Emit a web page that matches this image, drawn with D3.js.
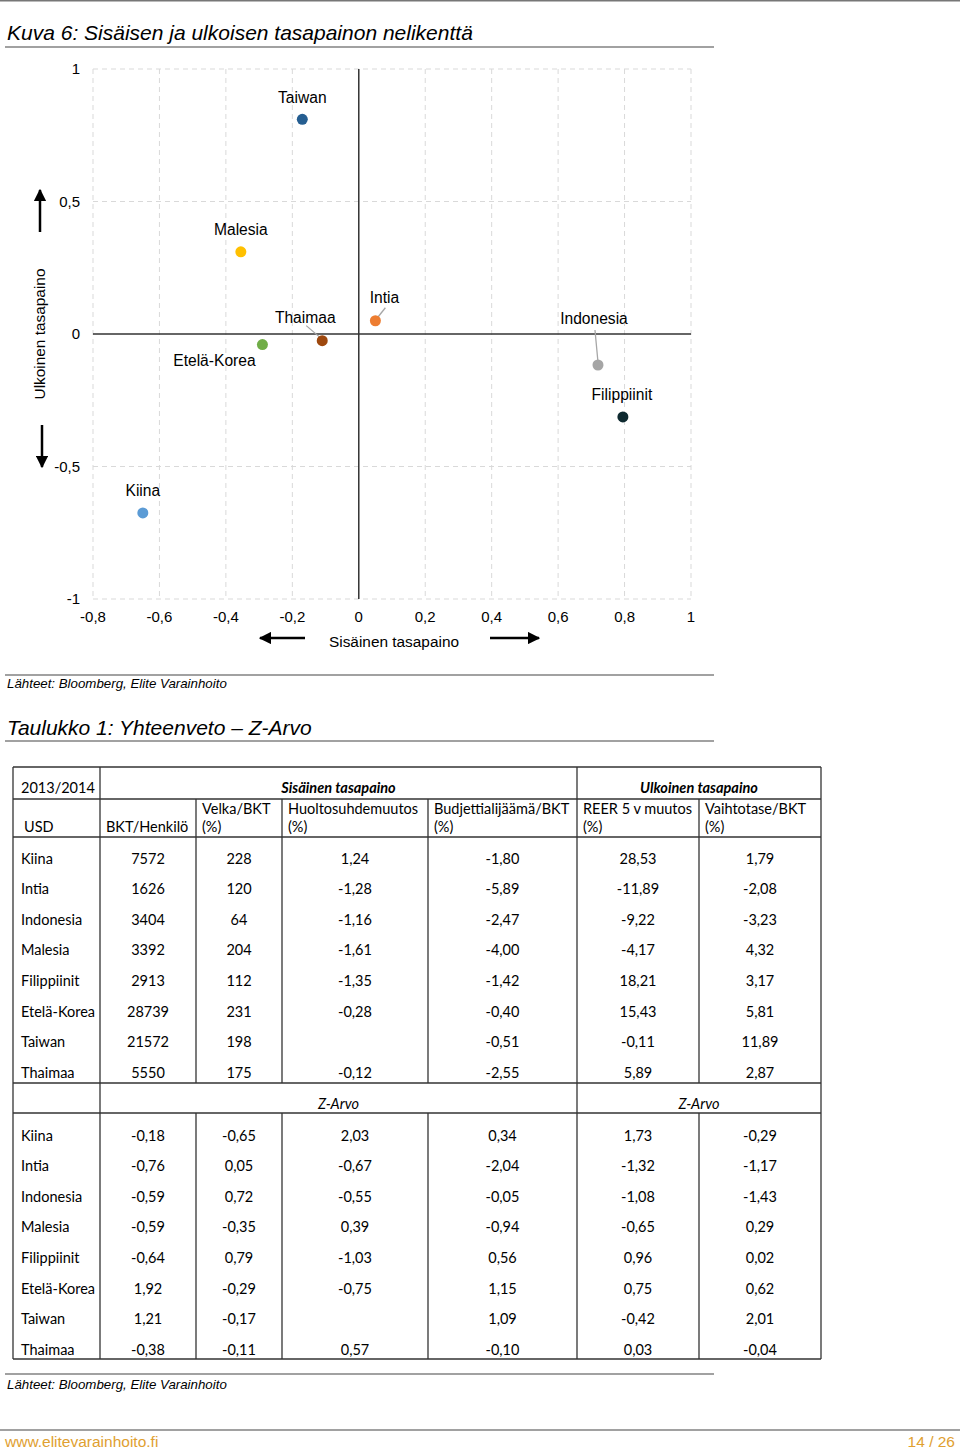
<!DOCTYPE html>
<html>
<head>
<meta charset="utf-8">
<script src="https://cdn.jsdelivr.net/npm/d3@7"></script>
<style>
  body { margin: 0; background: #fff; }
</style>
</head>
<body>
<svg id="page" width="960" height="1453"></svg>
<script>
// scatter data
var countries = ["Taiwan", "Malesia", "Etelä-Korea", "Thaimaa", "Intia", "Indonesia", "Filippiinit", "Kiina"];
var sisainen = [-0.17, -0.355, -0.29, -0.11, 0.05, 0.72, 0.795, -0.65];
var ulkoinen = [0.81, 0.31, -0.04, -0.025, 0.05, -0.117, -0.313, -0.675];
var pointColors = ["#255e91", "#ffc000", "#70ad47", "#9e480e", "#ed7d31", "#a5a5a5", "#0f2a30", "#5b9bd5"];
var xTicks = [-0.8, -0.6, -0.4, -0.2, 0, 0.2, 0.4, 0.6, 0.8, 1];
var yTicks = [-1, -0.5, 0, 0.5, 1];

// table data
var rowNames = ["Kiina", "Intia", "Indonesia", "Malesia", "Filippiinit", "Etelä-Korea", "Taiwan", "Thaimaa"];
var bktHenkilo = ["7572", "1626", "3404", "3392", "2913", "28739", "21572", "5550"];
var velkaBkt = ["228", "120", "64", "204", "112", "231", "198", "175"];
var huoltosuhde = ["1,24", "-1,28", "-1,16", "-1,61", "-1,35", "-0,28", "", "-0,12"];
var budjetti = ["-1,80", "-5,89", "-2,47", "-4,00", "-1,42", "-0,40", "-0,51", "-2,55"];
var reer = ["28,53", "-11,89", "-9,22", "-4,17", "18,21", "15,43", "-0,11", "5,89"];
var vaihtotase = ["1,79", "-2,08", "-3,23", "4,32", "3,17", "5,81", "11,89", "2,87"];

var zBkt = ["-0,18", "-0,76", "-0,59", "-0,59", "-0,64", "1,92", "1,21", "-0,38"];
var zVelka = ["-0,65", "0,05", "0,72", "-0,35", "0,79", "-0,29", "-0,17", "-0,11"];
var zHuolto = ["2,03", "-0,67", "-0,55", "0,39", "-1,03", "-0,75", "", "0,57"];
var zBudjetti = ["0,34", "-2,04", "-0,05", "-0,94", "0,56", "1,15", "1,09", "-0,10"];
var zReer = ["1,73", "-1,32", "-1,08", "-0,65", "0,96", "0,75", "-0,42", "0,03"];
var zVaihto = ["-0,29", "-1,17", "-1,43", "0,29", "0,02", "0,62", "2,01", "-0,04"];

var headerTop = ["", "", "Velka/BKT", "Huoltosuhdemuutos", "Budjettialijäämä/BKT", "REER 5 v muutos", "Vaihtotase/BKT"];
var headerBottom = ["USD", "BKT/Henkilö", "(%)", "(%)", "(%)", "(%)", "(%)"];

var svg = d3.select("#page")
    .attr("font-family", "'Liberation Sans', Arial, Helvetica, sans-serif")
    .attr("fill", "#000");

// page frame lines
svg.append("line").attr("x1", 0).attr("x2", 960).attr("y1", 0.5).attr("y2", 0.5)
    .attr("stroke", "#777").attr("stroke-width", 2);

function rule(y, x2) {
    svg.append("line").attr("x1", 5).attr("x2", x2).attr("y1", y).attr("y2", y)
        .attr("stroke", "#444").attr("stroke-width", 1.2);
}

svg.append("text").attr("x", 7).attr("y", 40)
    .attr("font-size", 21).attr("font-style", "italic")
    .text("Kuva 6: Sisäisen ja ulkoisen tasapainon nelikenttä");
rule(47, 714);

// ---- scatter ----
var x = d3.scaleLinear().domain([-0.8, 1]).range([93, 691]);
var y = d3.scaleLinear().domain([-1, 1]).range([599, 69]);

var grid = svg.append("g");
grid.selectAll(".vg").data(xTicks.filter(function (d) { return d !== 0; }))
    .enter().append("line")
    .attr("x1", function (d) { return x(d); }).attr("x2", function (d) { return x(d); })
    .attr("y1", y(1)).attr("y2", y(-1))
    .attr("stroke", "#d9d9d9").attr("stroke-dasharray", "5,4");
grid.selectAll(".hg").data(yTicks.filter(function (d) { return d !== 0; }))
    .enter().append("line")
    .attr("x1", x(-0.8)).attr("x2", x(1))
    .attr("y1", function (d) { return y(d); }).attr("y2", function (d) { return y(d); })
    .attr("stroke", "#d9d9d9").attr("stroke-dasharray", "5,4");

svg.append("line").attr("x1", x(-0.8)).attr("x2", x(1)).attr("y1", y(0)).attr("y2", y(0))
    .attr("stroke", "#333").attr("stroke-width", 1.5);
svg.append("line").attr("x1", x(0)).attr("x2", x(0)).attr("y1", y(1)).attr("y2", y(-1))
    .attr("stroke", "#333").attr("stroke-width", 1.5);

var fmt = function (d) { return String(d).replace(".", ","); };

svg.selectAll(".xt").data(xTicks).enter().append("text")
    .attr("x", function (d) { return x(d); }).attr("y", 622)
    .attr("text-anchor", "middle").attr("font-size", 15)
    .text(fmt);
svg.selectAll(".yt").data(yTicks).enter().append("text")
    .attr("x", 80).attr("y", function (d) { return y(d) + 5; })
    .attr("text-anchor", "end").attr("font-size", 15)
    .text(fmt);

// axis titles with arrows
var defs = svg.append("defs");
defs.append("marker").attr("id", "ah").attr("viewBox", "0 0 10 10")
    .attr("refX", 9).attr("refY", 5).attr("markerWidth", 5).attr("markerHeight", 5)
    .attr("markerUnits", "strokeWidth").attr("orient", "auto")
    .append("path").attr("d", "M0,0L10,5L0,10z").attr("fill", "#000");

function arrow(x1, y1, x2, y2) {
    svg.append("line").attr("x1", x1).attr("y1", y1).attr("x2", x2).attr("y2", y2)
        .attr("stroke", "#000").attr("stroke-width", 2.5).attr("marker-end", "url(#ah)");
}
arrow(40, 232, 40, 190);
arrow(42, 425, 42, 467);
arrow(305, 638, 260, 638);
arrow(490, 638, 539, 638);

svg.append("text").attr("x", 394).attr("y", 647).attr("text-anchor", "middle")
    .attr("font-size", 15.4).text("Sisäinen tasapaino");
svg.append("text").attr("transform", "translate(45,334) rotate(-90)")
    .attr("text-anchor", "middle").attr("font-size", 15.4).text("Ulkoinen tasapaino");

// label offsets from point (layout only)
var labelOffset = {
    "Taiwan": [0, -22], "Malesia": [0, -22], "Etelä-Korea": [-48, 16], "Thaimaa": [-17, -23],
    "Intia": [9, -23], "Indonesia": [-4, -47], "Filippiinit": [-1, -22], "Kiina": [0, -22]
};
var leaders = { "Thaimaa": [[-16, -15], [-2, -3]], "Intia": [[10, -13], [2, -3]], "Indonesia": [[-3, -35], [0, -3]] };

var pts = countries.map(function (c, i) {
    return { name: c, sx: sisainen[i], uy: ulkoinen[i], color: pointColors[i] };
});

pts.forEach(function (p) {
    if (leaders[p.name]) {
        var l = leaders[p.name];
        svg.append("line")
            .attr("x1", x(p.sx) + l[0][0]).attr("y1", y(p.uy) + l[0][1])
            .attr("x2", x(p.sx) + l[1][0]).attr("y2", y(p.uy) + l[1][1])
            .attr("stroke", "#a6a6a6").attr("stroke-width", 1.3);
    }
});

svg.selectAll(".pt").data(pts).enter().append("circle")
    .attr("cx", function (d) { return x(d.sx); })
    .attr("cy", function (d) { return y(d.uy); })
    .attr("r", 5.5)
    .attr("fill", function (d) { return d.color; });

svg.selectAll(".lbl").data(pts).enter().append("text")
    .attr("x", function (d) { return x(d.sx) + labelOffset[d.name][0]; })
    .attr("y", function (d) { return y(d.uy) + labelOffset[d.name][1] + 5.5; })
    .attr("text-anchor", "middle").attr("font-size", 15.6)
    .text(function (d) { return d.name; });

rule(675, 714);
svg.append("text").attr("x", 7).attr("y", 688).attr("font-size", 13.3).attr("font-style", "italic")
    .text("Lähteet: Bloomberg, Elite Varainhoito");

svg.append("text").attr("x", 7).attr("y", 735)
    .attr("font-size", 21).attr("font-style", "italic")
    .text("Taulukko 1: Yhteenveto – Z-Arvo");
rule(741, 714);

// ---- table ----
var colEdges = [13, 100, 196, 282, 428, 577, 699, 821];
var tbl = svg.append("g")
    .attr("font-family", "Lato, 'Open Sans', sans-serif")
    .attr("font-size", 14.5);
var stroke = "#333";

function hline(y0, x1, x2) {
    tbl.append("line").attr("x1", x1).attr("x2", x2).attr("y1", y0).attr("y2", y0)
        .attr("stroke", stroke).attr("stroke-width", 1.3);
}
function vline(x0, y1, y2) {
    tbl.append("line").attr("x1", x0).attr("x2", x0).attr("y1", y1).attr("y2", y2)
        .attr("stroke", stroke).attr("stroke-width", 1.3);
}

var yTop = 767, yH1 = 799, yH2 = 837, yZ1 = 1083, yZ2 = 1113, yBot = 1359;
[yTop, yH1, yH2, yZ1, yZ2, yBot].forEach(function (yy) { hline(yy, colEdges[0], colEdges[7]); });
[0, 1, 5, 7].forEach(function (i) { vline(colEdges[i], yTop, yBot); });
[2, 3, 4, 6].forEach(function (i) { vline(colEdges[i], yH1, yZ1); vline(colEdges[i], yZ2, yBot); });

tbl.append("text").attr("x", 21).attr("y", 793).text("2013/2014");
tbl.append("text").attr("x", (colEdges[1] + colEdges[5]) / 2).attr("y", 793)
    .attr("text-anchor", "middle").attr("font-weight", "bold").attr("font-style", "italic")
    .text("Sisäinen tasapaino");
tbl.append("text").attr("x", (colEdges[5] + colEdges[7]) / 2).attr("y", 793)
    .attr("text-anchor", "middle").attr("font-weight", "bold").attr("font-style", "italic")
    .text("Ulkoinen tasapaino");

headerTop.forEach(function (t, i) {
    tbl.append("text").attr("x", colEdges[i] + 6).attr("y", 814).text(t);
});
headerBottom.forEach(function (t, i) {
    tbl.append("text").attr("x", colEdges[i] + (i === 0 ? 11 : 6)).attr("y", 832).text(t);
});

tbl.append("text").attr("x", (colEdges[1] + colEdges[5]) / 2).attr("y", 1109)
    .attr("text-anchor", "middle").attr("font-style", "italic").text("Z-Arvo");
tbl.append("text").attr("x", (colEdges[5] + colEdges[7]) / 2).attr("y", 1109)
    .attr("text-anchor", "middle").attr("font-style", "italic").text("Z-Arvo");

var rowY = d3.scalePoint().domain(rowNames).range([0, 214.5]);

function drawBlock(top, cols) {
    rowNames.forEach(function (r) {
        tbl.append("text").attr("x", 21).attr("y", top + rowY(r)).text(r);
    });
    cols.forEach(function (col, ci) {
        var cx = (colEdges[ci + 1] + colEdges[ci + 2]) / 2;
        col.forEach(function (v, ri) {
            tbl.append("text").attr("x", cx).attr("y", top + rowY(rowNames[ri]))
                .attr("text-anchor", "middle").text(v);
        });
    });
}
drawBlock(863.5, [bktHenkilo, velkaBkt, huoltosuhde, budjetti, reer, vaihtotase]);
drawBlock(1140.5, [zBkt, zVelka, zHuolto, zBudjetti, zReer, zVaihto]);

rule(1374, 714);
svg.append("text").attr("x", 7).attr("y", 1389).attr("font-size", 13.3).attr("font-style", "italic")
    .text("Lähteet: Bloomberg, Elite Varainhoito");

svg.append("line").attr("x1", 0).attr("x2", 960).attr("y1", 1430).attr("y2", 1430)
    .attr("stroke", "#444").attr("stroke-width", 1.2);
svg.append("text").attr("x", 5).attr("y", 1447).attr("font-size", 15.5).attr("fill", "#e0a030")
    .text("www.elitevarainhoito.fi");
svg.append("text").attr("x", 955).attr("y", 1447).attr("font-size", 15.5).attr("fill", "#e0a030")
    .attr("text-anchor", "end").text("14 / 26");
</script>
</body>
</html>
